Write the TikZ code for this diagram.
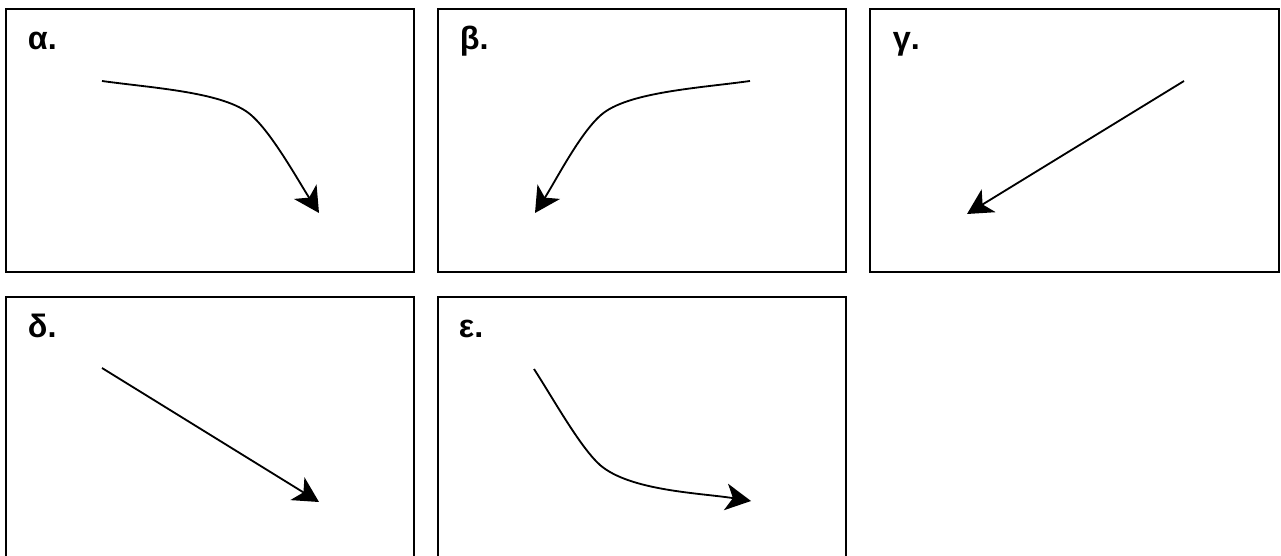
\documentclass[tikz,border=0pt]{standalone}
\usepackage{fontspec}
\setsansfont{Liberation Sans}
\usetikzlibrary{arrows.meta, calc}
\tikzset{
  every picture/.style={font=\sffamily, line width=1.4pt},
  panel/.style={draw=black, minimum width=10.2cm, minimum height=6.575cm, inner sep=0pt},
  tag/.style={font=\sffamily\bfseries\fontsize{23}{27}\selectfont, anchor=base west, inner sep=0pt},
  arrow/.style={-{Stealth[length=18pt, width=19pt, inset=5pt]}, draw=black, line width=1.3pt},
}
\begin{document}
\begin{tikzpicture}[x=0.025cm, y=-0.025cm]
  \useasboundingbox (0,0) rectangle (1281,556);
  % the five panels
  \node[panel] (A) at (210, 140.5) {};
  \node[panel] (B) at (642, 140.5) {};
  \node[panel] (C) at (1074.5, 140.5) {};
  \node[panel] (D) at (210, 428.5) {};
  \node[panel] (E) at (642, 428.5) {};
  \node[tag] (tA) at (27, 50) {α.};
  \node[tag] (tB) at (459, 50) {β.};
  \node[tag] (tC) at (892, 50) {γ.};
  \node[tag] (tD) at (27, 338) {δ.};
  \node[tag] (tE) at (458, 338) {ε.};
  % end points of the arrows
  \coordinate (a1) at (102, 81);   \coordinate (a2) at (319, 213);
  \coordinate (b1) at (750, 81);   \coordinate (b2) at (535, 213);
  \coordinate (c1) at (1184, 81);  \coordinate (c2) at (967, 214);
  \coordinate (d1) at (102, 368);  \coordinate (d2) at (319, 502);
  \coordinate (e1) at (534, 369);  \coordinate (e2) at (751, 501);
  \draw[arrow] (a1) .. controls (152, 88) and (225, 92) .. (251, 115)
                    .. controls (272, 133) and (299, 182) .. (a2);
  \draw[arrow] (b1) .. controls (700, 88) and (627, 92) .. (601, 115)
                    .. controls (580, 133) and (555, 182) .. (b2);
  \draw[arrow] (c1) -- (c2);
  \draw[arrow] (d1) -- (d2);
  \draw[arrow] (e1) .. controls (554, 400) and (580, 447) .. (600, 465)
                    .. controls (630, 491) and (701, 493) .. (e2);
\end{tikzpicture}
\end{document}
